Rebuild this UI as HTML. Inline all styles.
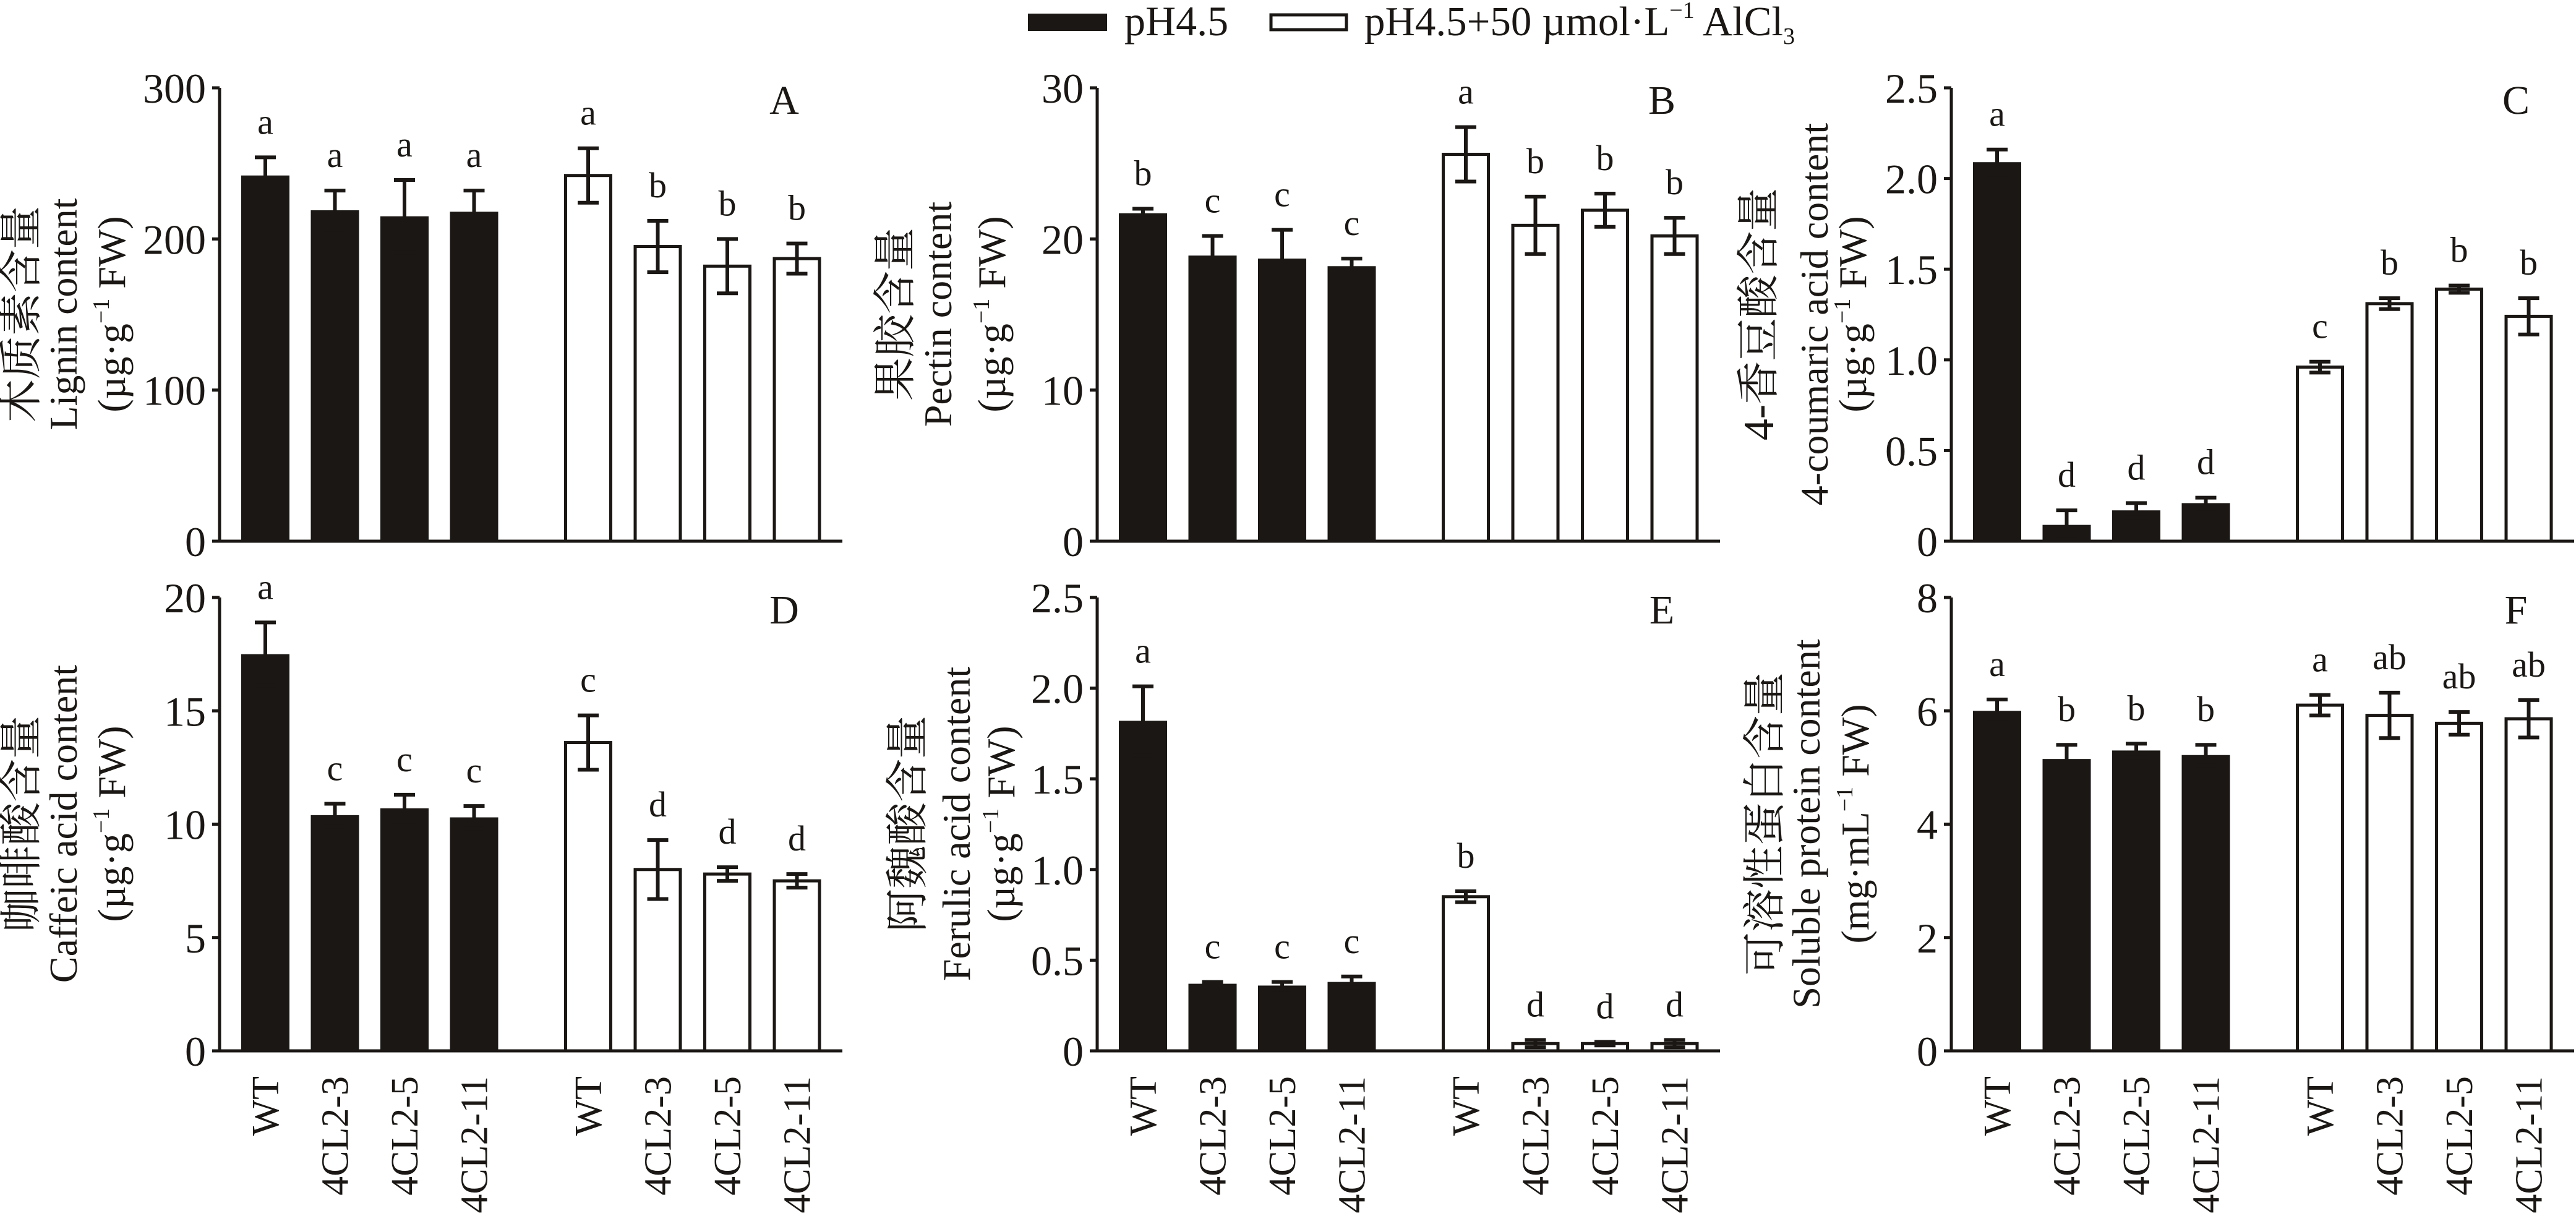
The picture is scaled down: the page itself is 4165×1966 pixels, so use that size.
<!DOCTYPE html>
<html><head><meta charset="utf-8"><style>
html,body{margin:0;padding:0;background:#fff;}
svg{display:block;}
text{font-family:"Liberation Serif","Noto Serif CJK SC",serif;fill:#1a1714;}
.cn{font-family:"Liberation Serif","Noto Serif CJK SC",serif;font-size:70px;}
</style></head><body>
<svg id="s" xmlns="http://www.w3.org/2000/svg" width="4165" height="1966" viewBox="0 0 4165 1966">
<rect width="4165" height="1966" fill="#fff"/>
<rect x="1662" y="22" width="128" height="28" fill="#1a1714"/>
<text x="1818" y="57" font-size="68">pH4.5</text>
<rect x="2055" y="24" width="122" height="24" fill="#fff" stroke="#1a1714" stroke-width="5"/>
<text x="2206" y="57" font-size="67">pH4.5+50 µmol·L<tspan font-size="38" dy="-28">−1</tspan><tspan dy="28"> AlCl</tspan><tspan font-size="38" dy="14">3</tspan></text>
<g font-size="64" text-anchor="middle">
<text transform="translate(58,508) rotate(-90)" class="cn">木质素含量</text>
<text transform="translate(124,508) rotate(-90)">Lignin content</text>
<text transform="translate(202,508) rotate(-90)">(µg·g<tspan font-size="38" dy="-26">−1</tspan><tspan dy="26"> FW)</tspan></text>

<text transform="translate(1471,508) rotate(-90)" class="cn">果胶含量</text>
<text transform="translate(1538,508) rotate(-90)">Pectin content</text>
<text transform="translate(1625,508) rotate(-90)">(µg·g<tspan font-size="38" dy="-26">−1</tspan><tspan dy="26"> FW)</tspan></text>

<text transform="translate(2867,508) rotate(-90)" class="cn">4-香豆酸含量</text>
<text transform="translate(2955,508) rotate(-90)">4-coumaric acid content</text>
<text transform="translate(3017,508) rotate(-90)">(µg·g<tspan font-size="38" dy="-26">−1</tspan><tspan dy="26"> FW)</tspan></text>

<text transform="translate(58,1332) rotate(-90)" class="cn">咖啡酸含量</text>
<text transform="translate(124,1332) rotate(-90)">Caffeic acid content</text>
<text transform="translate(202,1332) rotate(-90)">(µg·g<tspan font-size="38" dy="-26">−1</tspan><tspan dy="26"> FW)</tspan></text>

<text transform="translate(1491,1332) rotate(-90)" class="cn">阿魏酸含量</text>
<text transform="translate(1568,1332) rotate(-90)">Ferulic acid content</text>
<text transform="translate(1640,1332) rotate(-90)">(µg·g<tspan font-size="38" dy="-26">−1</tspan><tspan dy="26"> FW)</tspan></text>

<text transform="translate(2877,1332) rotate(-90)" class="cn">可溶性蛋白含量</text>
<text transform="translate(2942,1332) rotate(-90)">Soluble protein content</text>
<text transform="translate(3021,1332) rotate(-90)">(mg·mL<tspan font-size="38" dy="-26">−1</tspan><tspan dy="26"> FW)</tspan></text>
</g>
<g id="g"></g>
</svg>
<script>
var NS="http://www.w3.org/2000/svg",G=document.getElementById("g");
function el(t,a,txt){var e=document.createElementNS(NS,t);for(var k in a)e.setAttribute(k,a[k]);if(txt!==undefined)e.textContent=txt;G.appendChild(e);return e;}
var C="#1a1714";
var P=[
{x0:355,yt:142,y0:875,max:300,ticks:[0,100,200,300],lab:"A",v:[242,219,215,218,242,195,182,187],e:[12,13,24,14,18,17,18,10],L:["a","a","a","a","a","b","b","b"]},
{x0:1774,yt:142,y0:875,max:30,ticks:[0,10,20,30],lab:"B",v:[21.7,18.9,18.7,18.2,25.6,20.9,21.9,20.2],e:[0.3,1.3,1.9,0.5,1.8,1.9,1.1,1.2],L:["b","c","c","c","a","b","b","b"]},
{x0:3155,yt:142,y0:875,max:2.5,ticks:["0","0.5","1.0","1.5","2.0","2.5"],lab:"C",v:[2.09,0.09,0.17,0.21,0.96,1.31,1.39,1.24],e:[0.07,0.08,0.04,0.03,0.03,0.03,0.02,0.1],L:["a","d","d","d","c","b","b","b"]},
{x0:355,yt:966,y0:1699,max:20,ticks:[0,5,10,15,20],lab:"D",v:[17.5,10.4,10.7,10.3,13.6,8.0,7.8,7.5],e:[1.4,0.5,0.6,0.5,1.2,1.3,0.3,0.3],L:["a","c","c","c","c","d","d","d"]},
{x0:1774,yt:966,y0:1699,max:2.5,ticks:["0","0.5","1.0","1.5","2.0","2.5"],lab:"E",v:[1.82,0.37,0.36,0.38,0.85,0.04,0.04,0.04],e:[0.19,0.01,0.02,0.03,0.03,0.02,0.01,0.02],L:["a","c","c","c","b","d","d","d"]},
{x0:3155,yt:966,y0:1699,max:8,ticks:[0,2,4,6,8],lab:"F",v:[6.0,5.15,5.3,5.22,6.1,5.92,5.78,5.86],e:[0.2,0.25,0.12,0.18,0.18,0.4,0.2,0.33],L:["a","b","b","b","a","ab","ab","ab"]}
];
var names=["WT","4CL2-3","4CL2-5","4CL2-11","WT","4CL2-3","4CL2-5","4CL2-11"];
P.forEach(function(p,pi){
 var sc=(p.y0-p.yt)/p.max;
 function Y(v){return p.y0-v*sc;}
 for(var i=0;i<8;i++){
  var bx=p.x0+(i<4?35+i*112.5:557+(i-4)*112.5),w=78,cx=bx+w/2,top=Y(p.v[i]);
  if(i<4) el("rect",{x:bx,y:top,width:w,height:p.y0-top,fill:C});
  else el("rect",{x:bx+2.5,y:top,width:w-5,height:p.y0-top,fill:"#fff",stroke:C,"stroke-width":5});
  var et=Y(p.v[i]+p.e[i]),eb=Y(p.v[i]-p.e[i]);
  el("line",{x1:cx,x2:cx,y1:et,y2:eb,stroke:C,"stroke-width":6});
  el("line",{x1:cx-17,x2:cx+17,y1:et,y2:et,stroke:C,"stroke-width":6});
  el("line",{x1:cx-17,x2:cx+17,y1:eb,y2:eb,stroke:C,"stroke-width":6});
  el("text",{x:cx,y:et-38,"font-size":58,"text-anchor":"middle"},p.L[i]);
  if(pi>=3) el("text",{transform:"translate("+(cx+21)+",1740) rotate(-90)","font-size":62,"text-anchor":"end"},names[i]);
 }
 el("line",{x1:p.x0,x2:p.x0,y1:p.yt,y2:p.y0+2,stroke:C,"stroke-width":5});
 el("line",{x1:p.x0-2,x2:p.x0+1007,y1:p.y0,y2:p.y0,stroke:C,"stroke-width":5});
 var n=p.ticks.length;
 p.ticks.forEach(function(t,k){
  var y=p.y0-(p.y0-p.yt)*k/(n-1);
  el("line",{x1:p.x0-12,x2:p.x0,y1:y,y2:y,stroke:C,"stroke-width":5});
  el("text",{x:p.x0-22,y:y+24,"font-size":68,"text-anchor":"end"},String(t));
 });
 el("text",{x:p.x0+913,y:p.yt+42,"font-size":66,"text-anchor":"middle"},p.lab);
});
</script>
</body></html>
